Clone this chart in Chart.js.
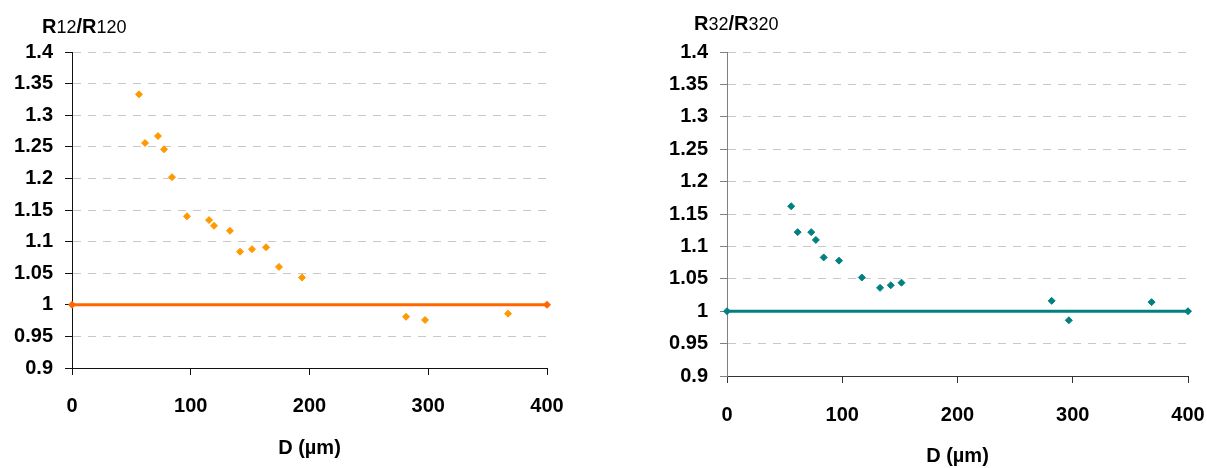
<!DOCTYPE html>
<html lang="en">
<head>
<meta charset="UTF-8" />
<title>R12/R120 and R32/R320 vs D</title>
<script src="https://cdn.jsdelivr.net/npm/chart.js"></script>
<style>
  body { margin: 0; background: #fff; }
  .wrap { position: relative; width: 1207px; height: 468px; }
  canvas { position: absolute; top: 0; }
  #left { left: 0; }
  #right { left: 600px; }
</style>
</head>
<body>
<div class="wrap">
  <canvas id="left" width="600" height="468"></canvas>
  <canvas id="right" width="607" height="468"></canvas>
</div>

<script>
// axes
const xTicks = [0, 100, 200, 300, 400];
const yTicks = [0.9, 0.95, 1, 1.05, 1.1, 1.15, 1.2, 1.25, 1.3, 1.35, 1.4];

// reference line at ratio = 1
const refD = [0, 400];
const refR = [1, 1];

// R12/R120
const d12 = [56.4, 61.5, 72.4, 77.5, 84.2, 96.8, 115.4, 119.6, 133, 141.5, 151.6, 163.4, 174.3, 193.7, 281.3, 297.3, 367.2];
const r12 = [1.333, 1.256, 1.267, 1.246, 1.202, 1.140, 1.134, 1.125, 1.117, 1.084, 1.088, 1.091, 1.060, 1.043, 0.981, 0.976, 0.986];

// R32/R320
const d32 = [55.7, 61.3, 73.1, 77.1, 83.9, 97.2, 117.0, 132.8, 142.1, 151.4, 281.7, 296.6, 368.4];
const r32 = [1.162, 1.122, 1.122, 1.110, 1.083, 1.078, 1.052, 1.036, 1.040, 1.044, 1.016, 0.986, 1.014];

Chart.defaults.font.family = '"Liberation Sans", Arial, sans-serif';
Chart.defaults.color = '#000';

const toXY = (xs, ys) => xs.map((x, i) => ({ x: x, y: ys[i] }));

// draws the "R12/R120" style label with smaller digits
const yTitlePlugin = {
  id: 'yTitle',
  afterDraw(chart, args, opts) {
    const ctx = chart.ctx;
    let x = opts.x;
    ctx.save();
    ctx.fillStyle = '#000';
    ctx.textBaseline = 'alphabetic';
    opts.parts.forEach(p => {
      ctx.font = p.font;
      ctx.fillText(p.text, x, opts.y);
      x += ctx.measureText(p.text).width;
    });
    ctx.restore();
  }
};

function ratioParts(a, b) {
  const big = 'bold 20px "Liberation Sans", Arial, sans-serif';
  const small = '18px "Liberation Sans", Arial, sans-serif';
  return [
    { text: 'R', font: big }, { text: a, font: small },
    { text: '/R', font: big }, { text: b, font: small }
  ];
}

function makeChart(id, cfg) {
  const tickFont = { size: 20, weight: 'bold' };
  new Chart(document.getElementById(id), {
    type: 'scatter',
    data: {
      datasets: [
        {
          data: toXY(refD, refR),
          showLine: true,
          borderColor: cfg.lineColor,
          backgroundColor: cfg.lineColor,
          borderWidth: 3,
          pointStyle: 'rectRot',
          pointRadius: 4,
          pointBorderWidth: 0,
          clip: false
        },
        {
          data: toXY(cfg.xs, cfg.ys),
          pointStyle: 'rectRot',
          pointRadius: 3.5,
          pointBorderWidth: 1,
          borderColor: cfg.pointColor,
          backgroundColor: cfg.pointColor,
          clip: false
        }
      ]
    },
    options: {
      responsive: false,
      animation: false,
      layout: { padding: { left: 0, top: 52, right: cfg.padRight, bottom: 0 } },
      plugins: {
        legend: { display: false },
        tooltip: { enabled: false },
        yTitle: { x: cfg.titleX, y: cfg.titleY, parts: cfg.parts }
      },
      scales: {
        x: {
          type: 'linear',
          min: 0, max: 400,
          afterBuildTicks: s => { s.ticks = xTicks.map(v => ({ value: v })); },
          afterFit: s => { s.height = cfg.xHeight; s.paddingLeft = 0; s.paddingRight = 0; },
          ticks: { font: tickFont, padding: cfg.xTickPad, maxRotation: 0 },
          grid: { drawOnChartArea: false, tickLength: 7, tickColor: cfg.xAxisColor },
          border: { color: cfg.xAxisColor, width: 1 },
          title: {
            display: true, text: 'D (µm)', font: tickFont,
            padding: { top: 0, bottom: cfg.xTitlePad }
          }
        },
        y: {
          min: 0.9, max: 1.4,
          afterBuildTicks: s => { s.ticks = yTicks.map(v => ({ value: v })); },
          afterFit: s => { s.width = cfg.yWidth; },
          ticks: {
            font: tickFont, padding: 12,
            callback: v => String(Math.round(v * 100) / 100)
          },
          grid: {
            color: '#c8c8c8', lineWidth: 1,
            tickLength: 7, tickColor: cfg.yAxisColor, tickBorderDash: []
          },
          border: { color: cfg.yAxisColor, width: 1, dash: [8, 7] }
        }
      }
    },
    plugins: [yTitlePlugin]
  });
}

makeChart('left', {
  xs: d12, ys: r12,
  pointColor: '#ff9900', lineColor: '#ff6600',
  xAxisColor: '#111', yAxisColor: '#111',
  padRight: 53, yWidth: 72, xHeight: 100, xTitlePad: 8, xTickPad: 19,
  titleX: 42, titleY: 33, parts: ratioParts('12', '120')
});

makeChart('right', {
  xs: d32, ys: r32,
  pointColor: '#008080', lineColor: '#008080',
  xAxisColor: '#333', yAxisColor: '#808080',
  padRight: 19, yWidth: 127, xHeight: 92, xTitlePad: 0, xTickPad: 20,
  titleX: 94, titleY: 30, parts: ratioParts('32', '320')
});
</script>
</body>
</html>
